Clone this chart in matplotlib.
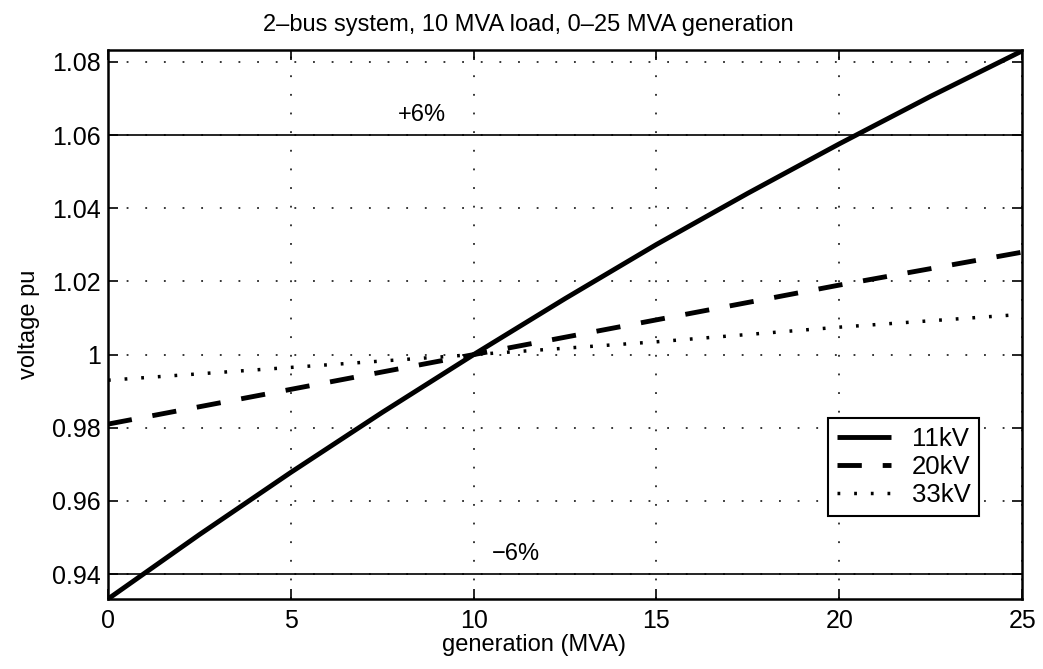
import numpy as np
import matplotlib
matplotlib.use("Agg")
import matplotlib.pyplot as plt

plt.rcParams["font.family"] = ["Liberation Sans", "DejaVu Sans"]

# generation (MVA) and bus voltage (pu) per network voltage
gen_11 = [0, 2.5, 5, 7.5, 10, 12.5, 15, 17.5, 20, 22.5, 25]
v_11 = [0.9332, 0.9508, 0.9678, 0.9842, 1.0000, 1.0153, 1.0301, 1.0441, 1.0576, 1.0706, 1.0830]
gen_20 = [0, 5, 10, 15, 20, 25]
v_20 = [0.981, 0.9905, 1.000, 1.0095, 1.019, 1.028]
gen_33 = [0, 5, 10, 15, 20, 25]
v_33 = [0.993, 0.9965, 1.000, 1.0035, 1.0075, 1.011]
limits = [1.06, 0.94]
limit_labels = ["+6%", "\u22126%"]
limit_label_x = [8.6, 11.15]

fig = plt.figure(figsize=(10.43, 6.69), dpi=100)
ax = fig.add_axes([0.1035, 0.1046, 0.8765, 0.8204])

ax.plot(gen_11, v_11, color="black", lw=3.5, label="11kV", solid_capstyle="butt")
ax.plot(gen_20, v_20, color="black", lw=3.5, ls=(0, (5, 4.3)), label="20kV")
ax.plot(gen_33, v_33, color="black", lw=2.5, ls=(0, (0.8, 4.0)), label="33kV")

for y, txt, xt in zip(limits, limit_labels, limit_label_x):
    ax.axhline(y, color="black", lw=1.2)
    ax.text(xt, y + 0.0025, txt, fontsize=17, ha="center", va="bottom")

ax.set_xlim(0, 25)
ax.set_ylim(0.9332, 1.0832)
ax.set_xticks([0, 5, 10, 15, 20, 25])
ax.set_yticks([0.94, 0.96, 0.98, 1.0, 1.02, 1.04, 1.06, 1.08])
ax.set_yticklabels(["0.94", "0.96", "0.98", "1", "1.02", "1.04", "1.06", "1.08"])
ax.tick_params(direction="in", labelsize=18, length=7, width=1.2, top=True, right=True)
ax.tick_params(axis="x", pad=7)
ax.tick_params(axis="y", pad=5)
ax.grid(True, color="black", ls=(0, (1.2, 11)), lw=1.1)
for s in ax.spines.values():
    s.set_linewidth(1.8)

ax.set_xlabel("generation (MVA)", fontsize=17, labelpad=1, x=0.466)
ax.set_ylabel("voltage pu", fontsize=17, labelpad=9)
ax.set_title("2\u2013bus system, 10 MVA load, 0\u201325 MVA generation",
             fontsize=17, pad=14, x=0.46)

leg = ax.legend(loc="upper left", bbox_to_anchor=(0.7877, 0.3297), fontsize=18.5,
                frameon=True, fancybox=False, edgecolor="black", framealpha=1,
                handlelength=2.1, borderpad=0.35, labelspacing=0.15,
                handletextpad=0.8, borderaxespad=0)
leg.get_frame().set_linewidth(1.5)

fig.savefig("out.png", dpi=100)
